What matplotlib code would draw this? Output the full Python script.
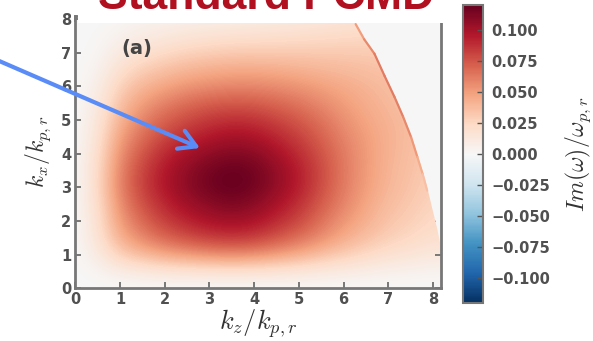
import numpy as np
import matplotlib
matplotlib.use('Agg')
import matplotlib.pyplot as plt
from matplotlib.colors import Normalize
from matplotlib.patches import Rectangle
from matplotlib.collections import LineCollection

plt.rcParams['mathtext.fontset'] = 'cm'

# grid nodes of the growth-rate map (k_z along columns, k_x along rows)
kz_nodes = [0, 0.5, 1, 1.5, 2, 2.5, 3, 3.5, 4, 4.5, 5, 5.5, 6, 6.5, 7, 7.5, 8]
kx_nodes = [0, 0.5, 1, 1.5, 2, 2.5, 3, 3.5, 4, 4.5, 5, 5.5, 6, 6.5, 7, 7.5, 8]

# Im(omega)/omega_pr, one row per k_x node
growth = [
    [0, 0, 0, 0, 0, 0, 0, 0, 0, 0, 0, 0, 0, 0, 0, 0, 0],
    [0, .003, .009, .012, .015, .016, .017, .018, .017, .016, .014, .012, .010, .008, .006, .005, .004],
    [0, .010, .029, .039, .047, .052, .056, .058, .056, .051, .045, .037, .030, .024, .019, .016, .013],
    [0, .016, .043, .059, .070, .078, .084, .086, .084, .076, .067, .056, .045, .036, .029, .024, .020],
    [0, .018, .051, .069, .083, .092, .099, .102, .099, .090, .080, .066, .053, .043, .034, .029, .023],
    [0, .020, .056, .077, .091, .102, .109, .113, .109, .099, .088, .073, .059, .047, .037, .032, .026],
    [0, .022, .060, .082, .097, .108, .116, .120, .116, .106, .094, .078, .062, .050, .040, .034, .028],
    [0, .021, .059, .081, .096, .107, .115, .119, .116, .106, .094, .079, .063, .051, .041, .035, .030],
    [0, .019, .055, .075, .090, .100, .107, .111, .109, .100, .089, .076, .062, .051, .042, .036, .031],
    [0, .016, .049, .067, .080, .089, .096, .100, .098, .091, .082, .071, .059, .050, .042, .037, .032],
    [0, .013, .042, .059, .071, .079, .085, .088, .087, .081, .074, .065, .055, .047, .041, .037, .033],
    [0, .010, .035, .050, .060, .067, .072, .074, .073, .069, .064, .057, .050, .044, .039, .035, .032],
    [0, .007, .028, .040, .047, .053, .056, .058, .058, .056, .053, .049, .045, .041, .037, .034, .031],
    [0, .004, .019, .029, .035, .040, .043, .045, .045, .044, .042, .040, .038, .036, .034, .032, .030],
    [0, .002, .011, .018, .023, .027, .029, .031, .031, .031, .031, .031, .031, .031, .030, .029, .028],
    [0, .001, .005, .009, .012, .015, .017, .018, .019, .020, .021, .022, .023, .024, .024, .024, .024],
    [0, 0, .002, .004, .005, .006, .007, .008, .009, .010, .011, .013, .015, .017, .018, .018, .018],
]

# cut-off curve on the right: no growth beyond it
edge_kx = [8.2, 7.85, 7.4, 6.97, 6.3, 5.68, 5.1, 4.49, 3.9, 3.39, 2.9, 2.4, 1.8, 1.0, 0.0]
edge_kz = [6.2, 6.28, 6.47, 6.7, 6.93, 7.15, 7.34, 7.52, 7.66, 7.78, 7.88, 7.97, 8.08, 8.2, 8.3]
# bright rim just inside the cut-off, with its growth value
rim_kx = [7.85, 7.4, 6.97, 6.3, 5.68, 5.1, 4.49, 3.9, 3.39, 2.9]
rim_kz = [6.27, 6.46, 6.69, 6.92, 7.14, 7.33, 7.51, 7.65, 7.77, 7.87]
rim_val = [0.05, 0.058, 0.062, 0.062, 0.06, 0.058, 0.052, 0.045, 0.036, 0.03]

cb_ticks = [0.1, 0.075, 0.05, 0.025, 0.0, -0.025, -0.05, -0.075, -0.1]
cb_labels = ['0.100', '0.075', '0.050', '0.025', '0.000',
             '\u22120.025', '\u22120.050', '\u22120.075', '\u22120.100']

cmap = plt.get_cmap('RdBu_r')
norm = Normalize(vmin=-0.12, vmax=0.12)
grey = '#777777'

fig = plt.figure(figsize=(5.93, 3.41), dpi=100)
ax = fig.add_axes([0.127, 0.155, 0.616, 0.799])
ax.set_facecolor(cmap(norm(0)))

step = 0.5
im = ax.imshow(np.array(growth), origin='lower', cmap=cmap, norm=norm,
               interpolation='bicubic', aspect='auto',
               extent=(kz_nodes[0] - step / 2, kz_nodes[-1] + step / 2,
                       kx_nodes[0] - step / 2, kx_nodes[-1] + step / 2))
ax.fill_betweenx(edge_kx, edge_kz, 8.5, color=cmap(norm(0)), lw=0, zorder=2)

pts = np.column_stack([rim_kz, rim_kx])
segs = np.stack([pts[:-1], pts[1:]], axis=1)
rim = LineCollection(segs, cmap=cmap, norm=norm, linewidths=1.6, zorder=3,
                     capstyle='round')
rim.set_array(np.array(rim_val[:-1]))
ax.add_collection(rim)

ax.set_xlim(0, 8.17)
ax.set_ylim(0, 8.1)
ax.set_xticks(range(0, 9))
ax.set_yticks(range(0, 9))
ax.tick_params(direction='in', top=True, right=True, length=4, width=1.4,
               color=grey, labelsize=10.5, labelcolor='#505050', pad=3)
for lbl in ax.get_xticklabels() + ax.get_yticklabels():
    lbl.set_fontweight('bold')
for sp in ax.spines.values():
    sp.set_color(grey)
    sp.set_linewidth(2)

ax.set_xlabel(r'$k_z/k_{p,r}$', fontsize=19, color='#333333', labelpad=0)
ax.set_ylabel(r'$k_x/k_{p,r}$', fontsize=17, color='#333333', labelpad=6)
ax.text(1.03, 7.13, '(a)', fontsize=14, fontweight='bold', color='#444444',
        va='center', ha='left', zorder=4)

cax = fig.add_axes([0.781, 0.111, 0.034, 0.874])
cb = fig.colorbar(im, cax=cax, ticks=cb_ticks)
cb.set_ticklabels(cb_labels)
cb.outline.set_edgecolor(grey)
cb.outline.set_linewidth(1.5)
cax.tick_params(direction='in', length=4, width=1, color='#555555',
                labelsize=10.5, labelcolor='#505050', pad=6)
for lbl in cax.get_yticklabels():
    lbl.set_fontweight('bold')
cb.set_label(r'$Im(\omega)/\omega_{p,r}$', fontsize=17, color='#333333',
             labelpad=9)

# white title box from the slide, partly covering the top of the plot
fig.patches.append(Rectangle((78 / 593, 1 - 23 / 341), 368 / 593, 23 / 341,
                             transform=fig.transFigure, facecolor='white',
                             edgecolor='none', zorder=5))
fig.text(0.448, 1 - 9 / 341, 'Standard PCMD', fontsize=32, fontweight='bold',
         family='Liberation Sans', color='#b01020', ha='center',
         va='baseline', zorder=6)

# pointer arrow from the slide
ax.annotate('', xy=(200, 341 - 148), xycoords='figure pixels',
            xytext=(-10, 341 - 57), textcoords='figure pixels',
            arrowprops=dict(arrowstyle='->,head_length=0.6,head_width=0.35',
                            color='#5a8cf7', lw=3, mutation_scale=20,
                            shrinkA=0, shrinkB=0),
            annotation_clip=False, zorder=7)

fig.savefig('out.png', dpi=100)
